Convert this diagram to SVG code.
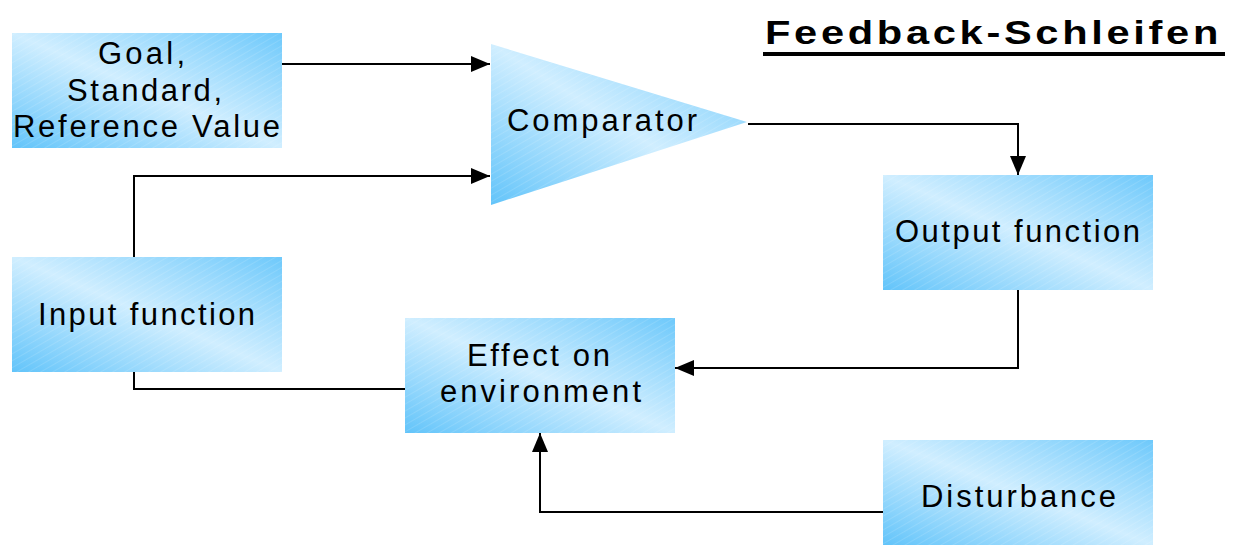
<svg xmlns="http://www.w3.org/2000/svg" width="1235" height="546" viewBox="0 0 1235 546">
  <style>
    .lbl { font-family: "Liberation Sans", Arial, sans-serif; font-size: 31px; fill: #000; }
    .title { font-family: "Liberation Sans", Arial, sans-serif; font-size: 34px; font-weight: bold; letter-spacing: 3px; fill: #000; }
    .box { fill: url(#grad); stroke: none; }
    .hatch { fill: url(#hatch); stroke: none; }
    .conn { fill: none; stroke: #000; stroke-width: 2; }
  </style>
  <defs>
    <linearGradient id="grad" x1="0" y1="1" x2="1" y2="0">
      <stop offset="0" stop-color="#62c4fa"/>
      <stop offset="0.5" stop-color="#d0eeff"/>
      <stop offset="1" stop-color="#6ec9fb"/>
    </linearGradient>
    <pattern id="hatch" patternUnits="userSpaceOnUse" width="6" height="6" patternTransform="rotate(-30)">
      <line x1="0" y1="0" x2="6" y2="0" stroke="#ffffff" stroke-width="1" stroke-opacity="0.25"/>
    </pattern>
    <marker id="arrow" markerUnits="userSpaceOnUse" markerWidth="20" markerHeight="16" refX="19" refY="8" orient="auto">
      <path d="M0,0 L19,8 L0,16 Z" fill="#000"/>
    </marker>
  </defs>
  <rect width="1235" height="546" fill="#fff"/>

  <g id="title">
    <text class="title" x="765" y="44" textLength="457" lengthAdjust="spacingAndGlyphs">Feedback-Schleifen</text>
    <rect x="763" y="52" width="462" height="4" fill="#000"/>
  </g>

  <g id="connectors">
    <path class="conn" d="M282,64 L490,64" marker-end="url(#arrow)"/>
    <path class="conn" d="M134,257 L134,176 L490,176" marker-end="url(#arrow)"/>
    <path class="conn" d="M748,124 L1018,124 L1018,175" marker-end="url(#arrow)"/>
    <path class="conn" d="M1018,290 L1018,368 L675,368" marker-end="url(#arrow)"/>
    <path class="conn" d="M134,372 L134,389 L405,389"/>
    <path class="conn" d="M883,512 L540,512 L540,433" marker-end="url(#arrow)"/>
  </g>

  <g id="goal">
    <rect class="box" x="12" y="33" width="270" height="115"/>
    <rect class="hatch" x="12" y="33" width="270" height="115"/>
    <text class="lbl" x="98" y="64" textLength="87" lengthAdjust="spacing">Goal,</text>
    <text class="lbl" x="67" y="101" textLength="155" lengthAdjust="spacing">Standard,</text>
    <text class="lbl" x="13" y="137" textLength="267" lengthAdjust="spacing">Reference Value</text>
  </g>

  <g id="comparator">
    <polygon class="box" points="491,44 747,122 491,205"/>
    <polygon class="hatch" points="491,44 747,122 491,205"/>
    <text class="lbl" x="507" y="131" textLength="190" lengthAdjust="spacing">Comparator</text>
  </g>

  <g id="output">
    <rect class="box" x="883" y="175" width="270" height="115"/>
    <rect class="hatch" x="883" y="175" width="270" height="115"/>
    <text class="lbl" x="895" y="242" textLength="245" lengthAdjust="spacing">Output function</text>
  </g>

  <g id="input">
    <rect class="box" x="12" y="257" width="270" height="115"/>
    <rect class="hatch" x="12" y="257" width="270" height="115"/>
    <text class="lbl" x="38" y="325" textLength="217" lengthAdjust="spacing">Input function</text>
  </g>

  <g id="effect">
    <rect class="box" x="405" y="318" width="270" height="115"/>
    <rect class="hatch" x="405" y="318" width="270" height="115"/>
    <text class="lbl" x="467" y="366" textLength="143" lengthAdjust="spacing">Effect on</text>
    <text class="lbl" x="440" y="402" textLength="201" lengthAdjust="spacing">environment</text>
  </g>

  <g id="disturbance">
    <rect class="box" x="883" y="440" width="270" height="105"/>
    <rect class="hatch" x="883" y="440" width="270" height="105"/>
    <text class="lbl" x="921" y="507" textLength="195" lengthAdjust="spacing">Disturbance</text>
  </g>
</svg>
